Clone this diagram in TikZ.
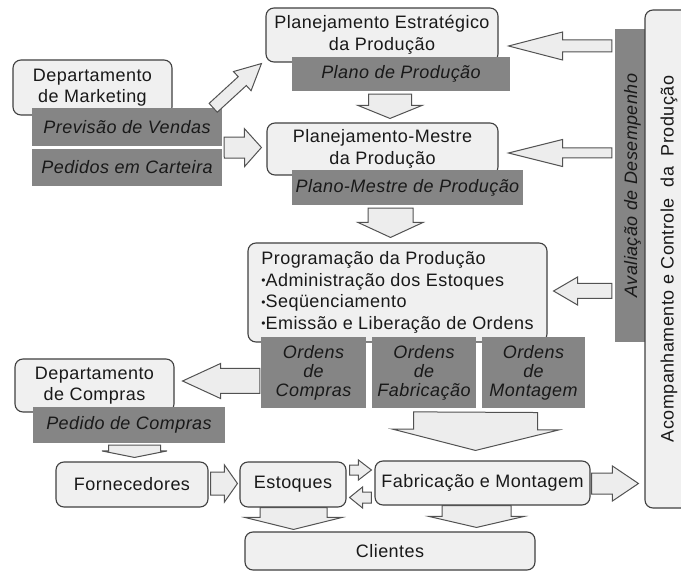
\documentclass[tikz,border=0pt]{standalone}
\usepackage{fontspec}
\setmainfont[LetterSpace=2.5]{Liberation Sans}
\usetikzlibrary{calc}

\newcommand{\marca}{\raisebox{1.5pt}{\fontsize{12}{0}\selectfont •}}
\newcommand{\blocoseta}[5]{%
  \coordinate (s-a) at (#1);
  \coordinate (s-b) at (#2);
  \coordinate (s-c) at ($(s-b)!#5pt!(s-a)$);
  \draw[seta] ($(s-a)!#3pt!90:(s-b)$) -- ($(s-c)!#3pt!-90:(s-a)$)
    -- ($(s-c)!#4pt!-90:(s-a)$) -- (s-b) -- ($(s-c)!#4pt!90:(s-a)$)
    -- ($(s-c)!#3pt!90:(s-a)$) -- ($(s-a)!#3pt!-90:(s-b)$) -- cycle;
}

\begin{document}
\begin{tikzpicture}[x=1pt, y=-1pt,
    caixa/.style={draw=black!75, fill=black!6, text=black!90, rounded corners=8pt,
      line width=1.1pt, inner sep=0pt, align=center, font=\fontsize{18}{21.5}\selectfont},
    faixa/.style={fill=black!48, text=black!90, inner sep=0pt, align=center,
      font=\fontsize{18}{21.5}\selectfont\itshape},
    ordens/.style={faixa, minimum height=71, font=\fontsize{18}{19}\selectfont\itshape},
    seta/.style={draw=black!68, fill=black!7, line width=1pt, line join=miter}]
    \useasboundingbox (0,0) rectangle (681,572);

        \node[caixa, minimum width=232, minimum height=54] (estr) at (382,35) {Planejamento Estratégico\\da Produção};
        \node[caixa, minimum width=231, minimum height=52] (mestre) at (382.5,149) {Planejamento-Mestre\\da Produção};
        \node[caixa, minimum width=299, minimum height=99, align=left] (prog) at (397.5,292.5)
            {Programação da Produção\\\marca Administração dos Estoques\\\marca Seqüenciamento\\\marca Emissão e Liberação de Ordens};
        \node[caixa, minimum width=159, minimum height=55] (mkt) at (92.5,87.5) {Departamento\\de Marketing};
        \node[caixa, minimum width=159, minimum height=53] (compras) at (94.5,385.5) {Departamento\\de Compras};
        \node[caixa, minimum width=152, minimum height=45] (forn) at (132,484.5) {Fornecedores};
        \node[caixa, minimum width=106, minimum height=45] (est) at (293,484.5) {Estoques};
        \node[caixa, minimum width=215, minimum height=44] (fab) at (482.5,483) {Fabricação e Montagem};
        \node[caixa, minimum width=290, minimum height=38] (cli) at (390,551) {Clientes};

        \node[faixa, minimum width=190, minimum height=38] (prev) at (127,127) {Previsão de Vendas};
        \node[faixa, minimum width=190, minimum height=37] (ped) at (127,167.5) {Pedidos em Carteira};
        \node[faixa, minimum width=192, minimum height=36] (pedc) at (129,425) {Pedido de Compras};
        \node[faixa, minimum width=218, minimum height=34] (planoprod) at (401,74) {Plano de Produção};
        \node[faixa, minimum width=231, minimum height=35] (planomestre) at (407.5,187.5) {Plano-Mestre de Produção};
        \node[ordens, minimum width=105] (oc) at (313.5,372.5) {Ordens\\de\\Compras};
        \node[ordens, minimum width=104] (of) at (424,372.5) {Ordens\\de\\Fabricação};
        \node[ordens, minimum width=103] (om) at (533.5,372.5) {Ordens\\de\\Montagem};

        \node[faixa, rotate=90, minimum width=313, minimum height=35] (aval) at (632.5,185.5) {Avaliação de Desempenho};
        \node[caixa, rotate=90, minimum width=498, minimum height=48] (acomp) at (669,259)
            {Acompanhamento e Controle\ \ da\ \ Produção};

        \blocoseta{$(prev.north east)+(-9,0)$}{$(estr.south west)+(-4,1)$}{6}{13}{26}
        \blocoseta{$(prev.south east)+(2,1.5)$}{$(mestre.west)+(-5,-1.5)$}{10.5}{19}{17}
        \blocoseta{$(planoprod.south)+(-11,3)$}{$(mestre.north)+(7.5,-4)$}{21.5}{32}{13}
        \blocoseta{$(planomestre.south)+(-17,3)$}{$(prog.north)+(-7,-5)$}{22.5}{32.5}{15}
        \blocoseta{$(aval.north |- estr.east)+(-3,11)$}{$(estr.east)+(10,11)$}{6}{14}{54}
        \blocoseta{$(aval.north |- mestre.east)+(-3,4)$}{$(mestre.east)+(10,4)$}{5}{13.5}{54}
        \blocoseta{$(aval.north |- prog.east)+(-3,-1.5)$}{$(prog.east)+(6,-1.5)$}{7.5}{14}{24}
        \blocoseta{$(oc.west)+(-1,8.5)$}{$(compras.east)+(8,-4.5)$}{12.5}{17.5}{38}
        \blocoseta{$(pedc.south)+(5.5,2)$}{$(forn.north)+(2.5,-4)$}{26}{32.5}{6.5}
        \blocoseta{$(of.south east)+(-0.5,4)$}{$(fab.north)+(-7,-10)$}{62}{83.5}{21}
        \blocoseta{$(forn.east)+(2,-1)$}{$(est.west)+(-2,-1)$}{11.5}{18.5}{13}
        \blocoseta{$(est.east)+(3,-14.5)$}{$(fab.west)+(-3,-13)$}{5}{10}{13}
        \blocoseta{$(fab.west)+(-3,14.5)$}{$(est.east)+(3,13)$}{5.5}{10.5}{13}
        \blocoseta{$(fab.east)+(1,0.5)$}{$(acomp.north |- fab.east)+(-6,0.5)$}{10.5}{17.5}{26}
        \blocoseta{$(est.south)+(0.5,0)$}{$(cli.north -| est.south)+(0.5,-2)$}{33.5}{48.5}{12}
        \blocoseta{$(fab.south)+(-6,0)$}{$(cli.north -| fab.south)+(-6,-4)$}{34.5}{47.5}{11}

\end{tikzpicture}
\end{document}
